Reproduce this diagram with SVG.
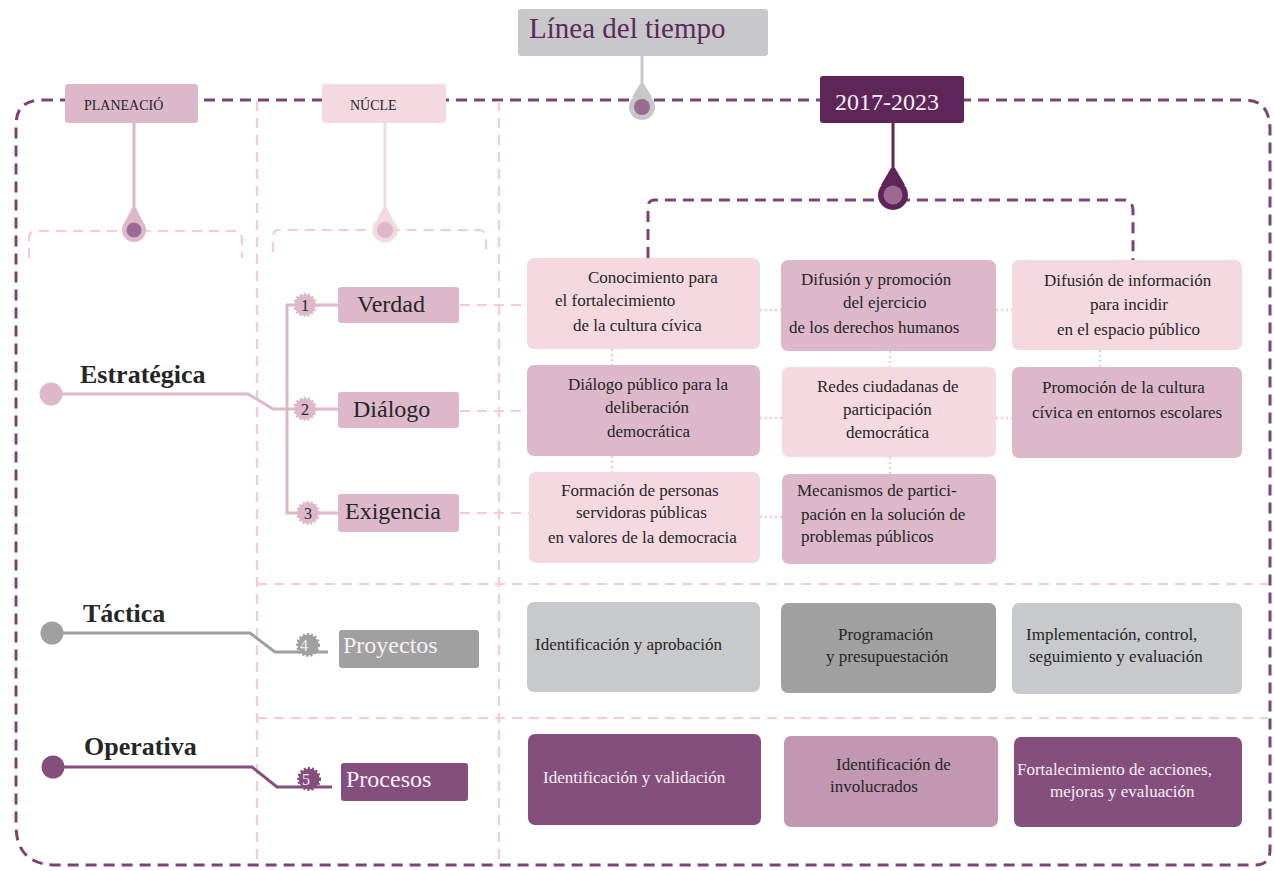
<svg xmlns="http://www.w3.org/2000/svg" width="1274" height="871" viewBox="0 0 1274 871">
<style>
text{font-family:"Liberation Serif","Times New Roman",serif;fill:#262626}
.frame{fill:none;stroke:#7b4472;stroke-width:3;stroke-dasharray:11 7}
.col{fill:none;stroke:#f2cdd8;stroke-width:2.2;stroke-dasharray:10 7}
.dot{fill:none;stroke:#f0ccd6;stroke-width:2.5;stroke-dasharray:2 3}
.lp{fill:#f5d9e1}.mp{fill:#dcb8ca}.pu{fill:#844f7c}.mv{fill:#c197b1}.gl{fill:#c8c9cb}.gd{fill:#a0a0a0}.dk{fill:#5e2558}
.bt{font-size:17px}
.lbl{font-size:24px}
.lvl{font-size:26px;font-weight:bold}
.num{font-size:16px;text-anchor:middle}
.w{fill:#f7f0f6}
</style>

<g id="frame">
<path class="frame" d="M42,100 L1245,100 Q1270,100 1270,130 L1270,850 Q1270,865 1255,865 L56,865 Q16,865 16,825 L16,125 Q16,100 42,100"/>
</g>

<g id="grid-lines">
<line class="col" x1="257" y1="101" x2="257" y2="863"/>
<line class="col" x1="499" y1="101" x2="499" y2="863"/>
<line class="col" x1="257" y1="584" x2="1268" y2="584"/>
<line class="col" x1="257" y1="718" x2="1268" y2="718"/>
<path class="col" d="M29,258 L29,238 Q29,231 36,231 L235,231 Q242,231 242,240 L242,258"/>
<path class="col" d="M273,252 L273,236 Q273,230 280,230 L478,230 Q485,230 486,238 L486,255"/>
</g>

<g id="connectors">
<path d="M648,258 L648,207 Q648,200 655,200 L1125,200 Q1133,202 1133,210 L1133,260" fill="none" stroke="#7b4472" stroke-width="3" stroke-dasharray="11 7"/>
<g stroke="#dcb8ca" stroke-width="3" fill="none">
<path d="M51,394 L248,394 L273,409 L287,409"/>
<path d="M338,305 L287,305 L287,513 L338,513"/>
<line x1="287" y1="409" x2="338" y2="409"/>
</g>
<path d="M52,633 L250,633 L275,652 L328,652" stroke="#a0a0a0" stroke-width="3" fill="none"/>
<path d="M53,767 L252,767 L277,787 L332,787" stroke="#844f7c" stroke-width="3" fill="none"/>
<g class="col">
<line x1="460" y1="305" x2="527" y2="305"/>
<line x1="460" y1="411" x2="527" y2="411"/>
<line x1="460" y1="513" x2="529" y2="513"/>
</g>
<g class="dot">
<line x1="760" y1="310" x2="781" y2="310"/>
<line x1="996" y1="310" x2="1012" y2="310"/>
<line x1="760" y1="418" x2="782" y2="418"/>
<line x1="996" y1="418" x2="1012" y2="418"/>
<line x1="760" y1="517" x2="782" y2="517"/>
<line x1="612" y1="349" x2="612" y2="365"/>
<line x1="890" y1="351" x2="890" y2="367"/>
<line x1="1100" y1="350" x2="1100" y2="367"/>
<line x1="612" y1="456" x2="612" y2="472"/>
<line x1="890" y1="457" x2="890" y2="474"/>
</g>
</g>

<g id="title">
<rect x="518" y="9" width="250" height="47" rx="3" fill="#c8c8ca"/>
<text x="529" y="38" style="font-size:29px;fill:#5a2a5c">Línea del tiempo</text>
<line x1="642" y1="56" x2="642" y2="95" stroke="#c8c8ca" stroke-width="3"/>
<polygon points="640,84 644,84 652,97 632,97" fill="#c8c8ca"/>
<circle cx="642" cy="107" r="13" fill="#c8c8ca"/>
<circle cx="642" cy="107" r="8" fill="#9a6a92"/>
</g>

<g id="planeacion">
<rect x="65" y="84" width="133" height="39" rx="3" class="mp"/>
<text x="84" y="110" style="font-size:14px">PLANEACIÓ</text>
<line x1="134" y1="123" x2="134" y2="218" stroke="#dcb8ca" stroke-width="3"/>
<polygon points="132,208 136,208 143,222 125,222" fill="#dcb8ca"/>
<circle cx="134" cy="230" r="12" fill="#dcb8ca"/>
<circle cx="134" cy="230" r="7.5" fill="#9a6a92"/>
</g>

<g id="nucleo">
<rect x="322" y="84" width="124" height="39" rx="3" class="lp"/>
<text x="350" y="110" style="font-size:14px">NÚCLE</text>
<line x1="385" y1="123" x2="385" y2="218" stroke="#f5d9e1" stroke-width="3"/>
<polygon points="383,208 387,208 394,222 376,222" fill="#f5d9e1"/>
<circle cx="385" cy="230" r="12.5" fill="#f5d9e1"/>
<circle cx="385" cy="230" r="8" fill="#dcb8ca"/>
</g>

<g id="periodo">
<rect x="820" y="76" width="144" height="47" rx="3" class="dk"/>
<text x="835" y="110" style="font-size:24px" class="w">2017-2023</text>
<line x1="893" y1="123" x2="893" y2="180" stroke="#5e2558" stroke-width="3"/>
<polygon points="891,168 895,168 905,185 881,185" fill="#5e2558"/>
<circle cx="893" cy="195" r="15" fill="#5e2558"/>
<circle cx="893" cy="195" r="9.5" fill="#9a6a92"/>
</g>

<g id="estrategica">
<circle cx="51" cy="394" r="11.5" fill="#dcb8ca"/>
<text x="80" y="383" class="lvl">Estratégica</text>
</g>
<g id="tactica">
<circle cx="52" cy="633" r="11.5" fill="#a0a0a0"/>
<text x="83" y="622" class="lvl">Táctica</text>
</g>
<g id="operativa">
<circle cx="53" cy="767" r="11.5" fill="#844f7c"/>
<text x="84" y="755" class="lvl">Operativa</text>
</g>

<g id="n1">
<circle cx="305" cy="305" r="10.5" fill="#dcb8ca" stroke="#dcb8ca" stroke-width="3" stroke-dasharray="2 2"/>
<text x="305" y="311" class="num">1</text>
</g>
<g id="n2">
<circle cx="305" cy="409" r="10.5" fill="#dcb8ca" stroke="#dcb8ca" stroke-width="3" stroke-dasharray="2 2"/>
<text x="305" y="415" class="num">2</text>
</g>
<g id="n3">
<circle cx="308" cy="513" r="10.5" fill="#dcb8ca" stroke="#dcb8ca" stroke-width="3" stroke-dasharray="2 2"/>
<text x="308" y="519" class="num">3</text>
</g>
<g id="n4">
<circle cx="308" cy="645" r="10.5" fill="#a0a0a0" stroke="#a0a0a0" stroke-width="3" stroke-dasharray="2 2"/>
<text x="304" y="651" class="num w">4</text>
</g>
<g id="n5">
<circle cx="309" cy="779" r="10.5" fill="#844f7c" stroke="#844f7c" stroke-width="3" stroke-dasharray="2 2"/>
<text x="306" y="785" class="num w">5</text>
</g>

<g id="verdad">
<rect x="338" y="287" width="121" height="36" rx="3" class="mp"/>
<text x="357" y="312" class="lbl">Verdad</text>
</g>
<g id="dialogo">
<rect x="338" y="392" width="121" height="36" rx="3" class="mp"/>
<text x="353" y="417" class="lbl">Diálogo</text>
</g>
<g id="exigencia">
<rect x="338" y="494" width="121" height="38" rx="3" class="mp"/>
<text x="345" y="519" class="lbl">Exigencia</text>
</g>
<g id="proyectos">
<rect x="339" y="630" width="140" height="38" rx="3" class="gd"/>
<text x="343" y="653" class="lbl w">Proyectos</text>
</g>
<g id="procesos">
<rect x="341" y="763" width="127" height="38" rx="3" class="pu"/>
<text x="346" y="787" class="lbl w">Procesos</text>
</g>

<g id="box-a">
<rect x="527" y="258" width="233" height="91" rx="7" class="lp"/>
<text class="bt"><tspan x="588" y="283">Conocimiento para</tspan><tspan x="555" y="306">el fortalecimiento</tspan><tspan x="573" y="331">de la cultura cívica</tspan></text>
</g>
<g id="box-b">
<rect x="781" y="260" width="215" height="91" rx="7" class="mp"/>
<text class="bt"><tspan x="801" y="285">Difusión y promoción</tspan><tspan x="843" y="308">del ejercicio</tspan><tspan x="789" y="333">de los derechos humanos</tspan></text>
</g>
<g id="box-c">
<rect x="1012" y="260" width="230" height="90" rx="7" class="lp"/>
<text class="bt"><tspan x="1044" y="286">Difusión de información</tspan><tspan x="1090" y="310">para incidir</tspan><tspan x="1057" y="335">en el espacio público</tspan></text>
</g>
<g id="box-d">
<rect x="527" y="365" width="233" height="91" rx="7" class="mp"/>
<text class="bt"><tspan x="568" y="390">Diálogo público para la</tspan><tspan x="605" y="413">deliberación</tspan><tspan x="607" y="437">democrática</tspan></text>
</g>
<g id="box-e">
<rect x="782" y="367" width="214" height="90" rx="7" class="lp"/>
<text class="bt"><tspan x="817" y="392">Redes ciudadanas de</tspan><tspan x="843" y="415">participación</tspan><tspan x="846" y="438">democrática</tspan></text>
</g>
<g id="box-f">
<rect x="1012" y="367" width="230" height="91" rx="7" class="mp"/>
<text class="bt"><tspan x="1042" y="393">Promoción de la cultura</tspan><tspan x="1032" y="418">cívica en entornos escolares</tspan></text>
</g>
<g id="box-g">
<rect x="529" y="472" width="231" height="91" rx="7" class="lp"/>
<text class="bt"><tspan x="561" y="496">Formación de personas</tspan><tspan x="576" y="518">servidoras públicas</tspan><tspan x="548" y="543">en valores de la democracia</tspan></text>
</g>
<g id="box-h">
<rect x="782" y="474" width="214" height="90" rx="7" class="mp"/>
<text class="bt"><tspan x="797" y="496">Mecanismos de partici-</tspan><tspan x="801" y="520">pación en la solución de</tspan><tspan x="801" y="542">problemas públicos</tspan></text>
</g>
<g id="box-i">
<rect x="527" y="602" width="233" height="90" rx="7" class="gl"/>
<text class="bt" x="535" y="650">Identificación y aprobación</text>
</g>
<g id="box-j">
<rect x="781" y="603" width="215" height="90" rx="7" class="gd"/>
<text class="bt"><tspan x="838" y="640">Programación</tspan><tspan x="826" y="662">y presupuestación</tspan></text>
</g>
<g id="box-k">
<rect x="1012" y="603" width="230" height="91" rx="7" class="gl"/>
<text class="bt"><tspan x="1026" y="640">Implementación, control,</tspan><tspan x="1029" y="662">seguimiento y evaluación</tspan></text>
</g>
<g id="box-l">
<rect x="528" y="734" width="233" height="91" rx="7" class="pu"/>
<text class="bt w" x="543" y="783">Identificación y validación</text>
</g>
<g id="box-m">
<rect x="784" y="736" width="214" height="91" rx="7" class="mv"/>
<text class="bt"><tspan x="836" y="770">Identificación de</tspan><tspan x="830" y="792">involucrados</tspan></text>
</g>
<g id="box-n">
<rect x="1014" y="737" width="228" height="90" rx="7" class="pu"/>
<text class="bt w"><tspan x="1017" y="775">Fortalecimiento de acciones,</tspan><tspan x="1050" y="797">mejoras y evaluación</tspan></text>
</g>
</svg>
